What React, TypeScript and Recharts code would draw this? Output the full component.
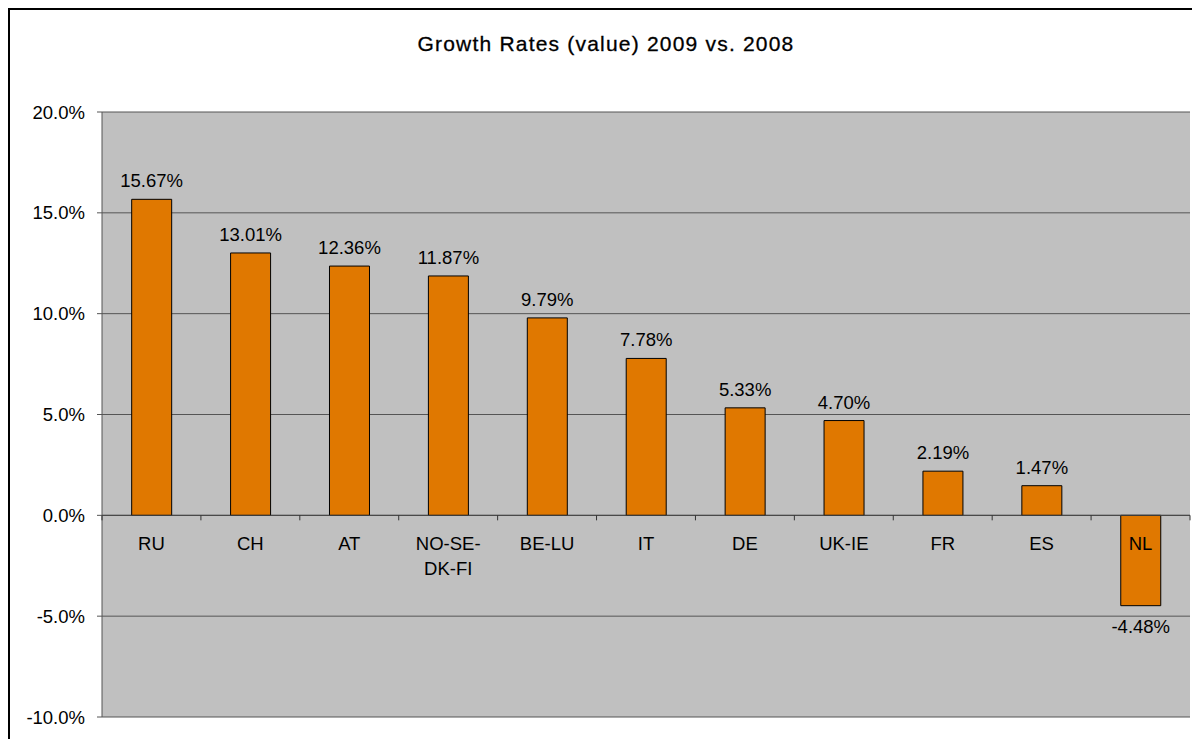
import { BarChart, Bar, XAxis, YAxis, CartesianGrid, LabelList, ReferenceLine } from 'recharts';

const categories = ['RU', 'CH', 'AT', 'NO-SE-DK-FI', 'BE-LU', 'IT', 'DE', 'UK-IE', 'FR', 'ES', 'NL'];
const categoryLines: Record<string, string[]> = { 'NO-SE-DK-FI': ['NO-SE-', 'DK-FI'] };
const growth = [15.67, 13.01, 12.36, 11.87, 9.79, 7.78, 5.33, 4.7, 2.19, 1.47, -4.48];
const yTicks = [-10, -5, 0, 5, 10, 15, 20];

const data = categories.map((name, i) => ({ name, value: growth[i] }));

// layout
const W = 1190;
const H = 729;
const M = { top: 102, right: 10, bottom: 0, left: 0 };
const Y_W = 92;
const X_H = 22;
const PLOT_W = W - M.left - M.right - Y_W;
const PLOT_H = H - M.top - M.bottom - X_H;
const Y_MIN = -10;
const Y_MAX = 20;
const zeroY = M.top + PLOT_H * (Y_MAX / (Y_MAX - Y_MIN));
const band = PLOT_W / categories.length;

const FONT = '"Liberation Sans", Arial, sans-serif';
const FS = 18.5;

const CategoryTick = (props: any) => {
  const { x, payload, index } = props;
  const lines = categoryLines[payload.value] || [payload.value];
  const last = index === categories.length - 1;
  return (
    <g>
      <line x1={x - band / 2} x2={x - band / 2} y1={zeroY} y2={zeroY + 5} stroke="#333" />
      {last && <line x1={x + band / 2} x2={x + band / 2} y1={zeroY} y2={zeroY + 5} stroke="#333" />}
      {lines.map((l, i) => (
        <text key={i} x={x} y={zeroY + 35 + i * 25} textAnchor="middle" fill="#000" fontSize={FS} fontFamily={FONT}>
          {l}
        </text>
      ))}
    </g>
  );
};

const ValueLabel = (props: any) => {
  const { x, y, width, height, value } = props;
  const top = Math.min(y, y + height);
  const bottom = Math.max(y, y + height);
  const ty = value >= 0 ? top - 12 : bottom + 27;
  return (
    <text x={x + width / 2} y={ty} textAnchor="middle" fill="#000" fontSize={FS} fontFamily={FONT}>
      {value.toFixed(2)}%
    </text>
  );
};

export default function App() {
  return (
    <div style={{ position: 'relative', width: W, height: H, border: '2px solid #000', borderRight: 'none', borderBottom: 'none', background: '#fff' }}>
      <div style={{ position: 'absolute', top: 22, left: -4, width: 1200, textAlign: 'center', fontFamily: FONT, fontSize: 21, letterSpacing: 1.2, WebkitTextStroke: '0.3px #000' }}>
        Growth Rates (value) 2009 vs. 2008
      </div>
      <BarChart width={W} height={H} data={data} margin={M} barCategoryGap="30%">
        <CartesianGrid vertical={false} stroke="#555" fill="#C0C0C0" />
        <XAxis dataKey="name" height={X_H} axisLine={false} tickLine={false} tick={<CategoryTick />} interval={0} />
        <YAxis
          width={Y_W}
          domain={[Y_MIN, Y_MAX]}
          ticks={yTicks}
          tickFormatter={(v: number) => v.toFixed(1) + '%'}
          tick={{ fill: '#000', fontSize: FS, fontFamily: FONT }}
          axisLine={{ stroke: '#555' }}
          tickLine={{ stroke: '#555' }}
          tickSize={5}
          tickMargin={12}
          allowDataOverflow
        />
        <ReferenceLine y={0} stroke="#444" />
        <Bar dataKey="value" fill="#E07800" stroke="#000" strokeWidth={1} isAnimationActive={false}>
          <LabelList dataKey="value" content={<ValueLabel />} />
        </Bar>
      </BarChart>
    </div>
  );
}
